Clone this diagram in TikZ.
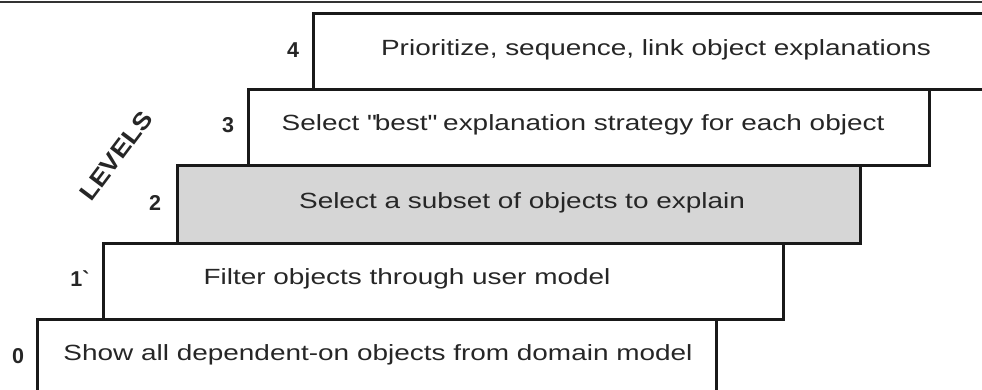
\documentclass[tikz,border=0pt]{standalone}
\usepackage{fontspec}
\setmainfont{Liberation Sans}
\newfontfamily\stairfont[FakeStretch=1.27]{Liberation Sans}
\newfontfamily\levelfont[FakeStretch=1.12]{Liberation Sans}
\begin{document}
\begin{tikzpicture}[x=1pt,y=-1pt,
  stair/.style={draw=black!90,line width=2.8pt,line join=miter,inner sep=0pt,anchor=north west},
  shade/.style={stair,fill=black!16},
  btext/.style={font=\stairfont\fontsize{22}{26}\selectfont,text=black!85,inner sep=0pt},
  lvl/.style={font=\bfseries\fontsize{21.5}{24}\selectfont,text=black!85,inner sep=0pt}]
\useasboundingbox (0,0) rectangle (982,390);
% top rule
\draw[line width=2.4pt,black!80] (0,2) -- (982,2);
% boxes
\node[shade,minimum width=683pt,minimum height=78pt] (b2) at (176,164) {};
\node[stair,minimum width=679pt,minimum height=90pt] (b0) at (36,318) {};
\node[stair,minimum width=680pt,minimum height=76pt] (b1) at (102,242) {};
\node[stair,minimum width=681pt,minimum height=76pt] (b3) at (247,88) {};
\node[stair,minimum width=700pt,minimum height=76pt] (b4) at (312,12) {};
% texts
\node[btext] (t4) at (656,50) {Prioritize, sequence, link object explanations};
\node[btext] (t3) at (583,125) {Select \textquotedbl best\textquotedbl\ explanation strategy for each object};
\node[btext] (t2) at (522,203) {Select a subset of objects to explain};
\node[btext] (t1) at (407,279) {Filter objects through user model};
\node[btext] (t0) at (378,355) {Show all dependent-on objects from domain model};
% level numbers
\node[lvl] (l4) at (293,50) {4};
\node[lvl] (l3) at (228,125) {3};
\node[lvl] (l2) at (155,203) {2};
\node[lvl] (l1) at (80,279) {1\textasciigrave};
\node[lvl] (l0) at (18,356) {0};
\node[lvl,font=\levelfont\bfseries\fontsize{24}{28}\selectfont,rotate=53] (lv) at (116,156) {LEVELS};
\end{tikzpicture}
\end{document}
